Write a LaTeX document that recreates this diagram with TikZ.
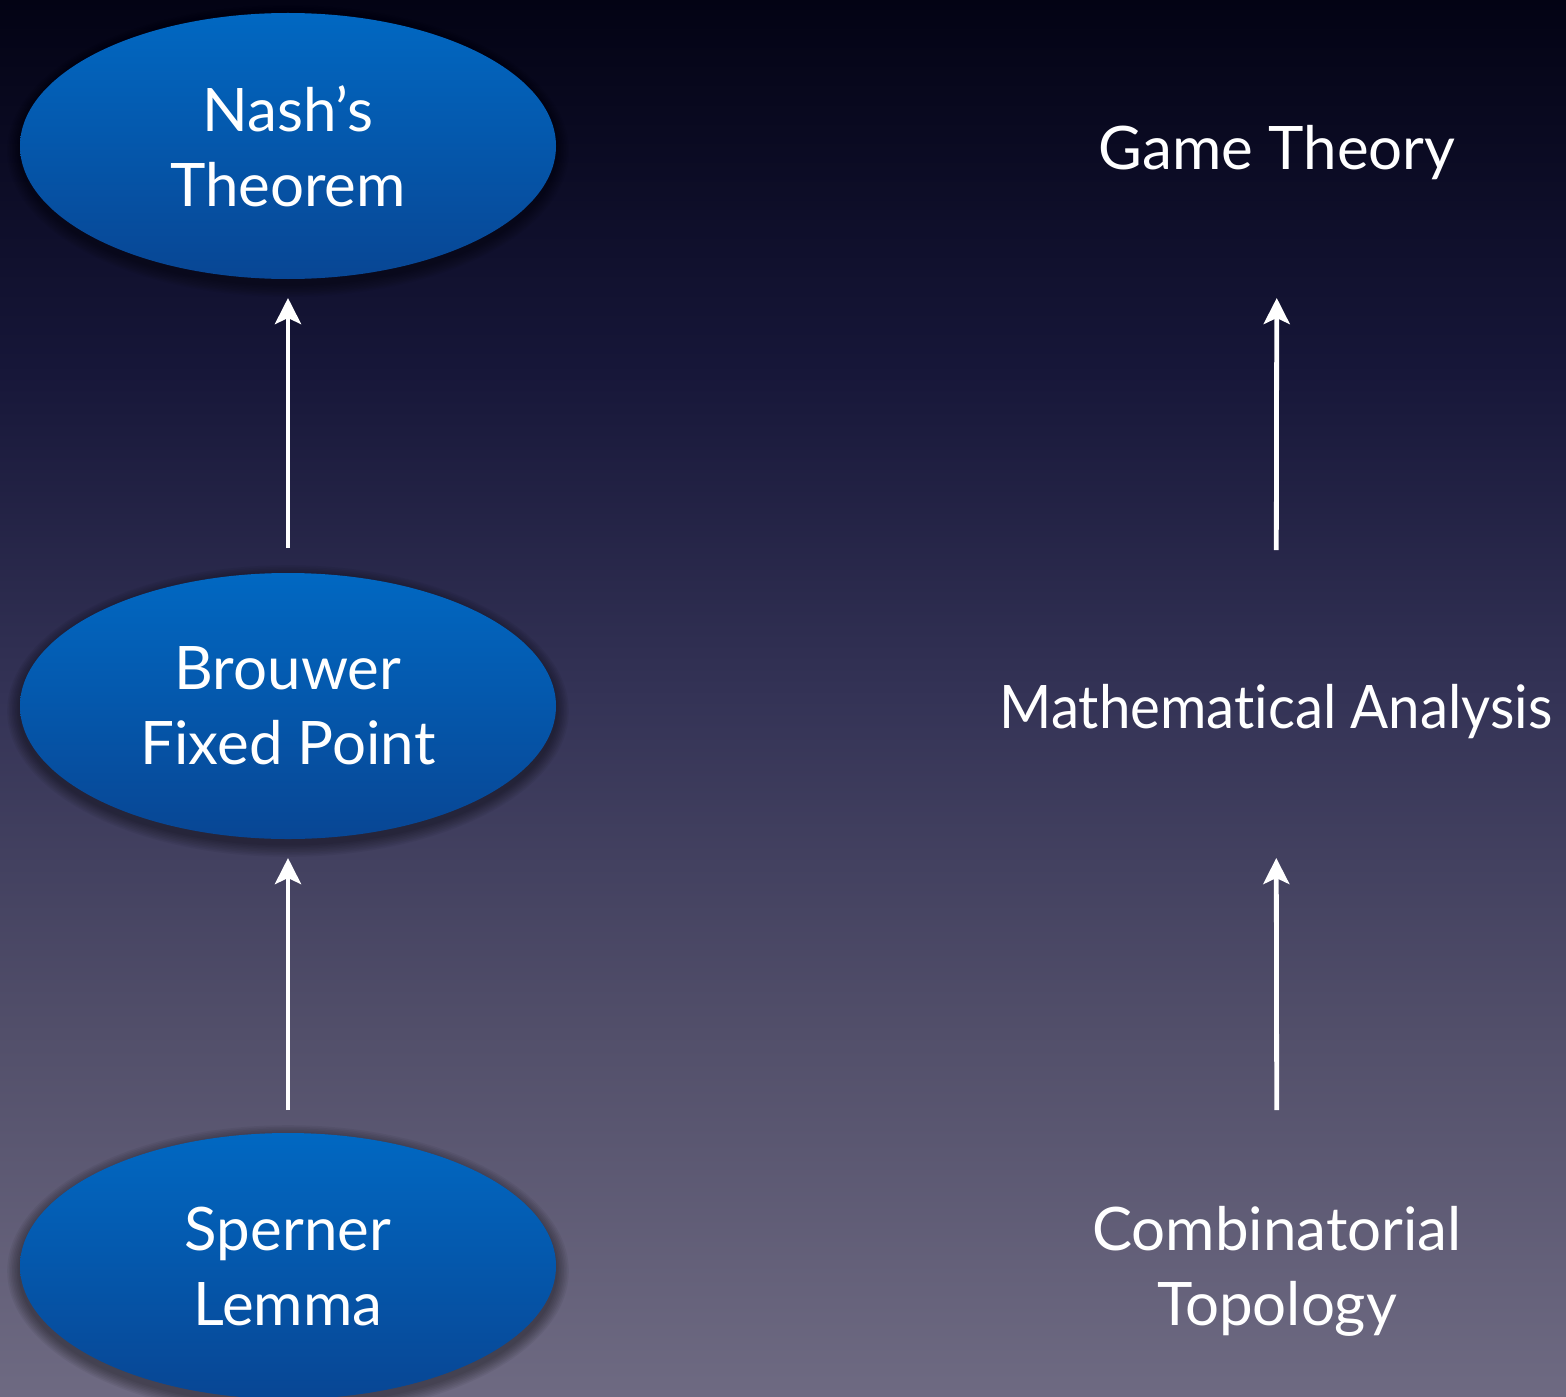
\documentclass[tikz,border=0pt]{standalone}
\usepackage{fontspec}
\setmainfont{Lato}
\newfontfamily\narrowfont[FakeStretch=0.94, Ligatures=NoCommon]{Lato}
\usetikzlibrary{arrows.meta,shapes.geometric}

\definecolor{bgtop}{RGB}{3,3,20}
\definecolor{bgupper}{RGB}{22,22,56}
\definecolor{bgmid}{RGB}{52,51,86}
\definecolor{bglower}{RGB}{82,79,106}
\definecolor{bgbot}{RGB}{110,106,130}
\definecolor{ovaltop}{RGB}{1,104,194}
\definecolor{ovalbot}{RGB}{8,70,148}

% the path's bounding box is mapped onto 25bp..75bp of the shading
\pgfdeclareverticalshading{slidebg}{100bp}{%
  color(0bp)=(bgbot); color(25bp)=(bgbot); color(38bp)=(bglower);
  color(50bp)=(bgmid); color(62bp)=(bgupper); color(75bp)=(bgtop); color(100bp)=(bgtop)}

\tikzset{
  topic/.style={ellipse, minimum width=268pt, minimum height=133pt, inner sep=0pt,
    top color=ovaltop, bottom color=ovalbot, text=white, align=center,
    font=\fontsize{30}{37.5}\selectfont},
  field/.style={text=white, align=center, inner sep=0pt,
    font=\fontsize{30}{37.5}\selectfont},
  link/.style={draw=white, line width=2.4pt,
    -{Stealth[length=13pt, width=13pt, inset=3pt]}},
}

\begin{document}
\begin{tikzpicture}[x=0.5pt, y=-0.5pt]
  % slide background
  \shade[shading=slidebg] (0,0) rectangle (1566,1396);
  \useasboundingbox (0,0) rectangle (1566,1396);

  % soft shadows under the ovals
  \foreach \cy in {146,706,1266}{
    \foreach \k in {1,...,8}{
      \fill[black, opacity=0.05] (288,\cy+5) ellipse [x radius=268+1.6*\k, y radius=133+1.6*\k];
    }
  }

  % left column: results
  \node[topic] (nash) at (288,146) {Nash’s\\Theorem};
  \node[topic] (brouwer) at (288,706) {Brouwer\\Fixed Point};
  \node[topic] (sperner) at (288,1266) {Sperner\\Lemma};

  % right column: fields
  \node[field] (game) at (1277,153) {Game Theory};
  \node[field, font=\narrowfont\fontsize{30}{37.5}\selectfont] (analysis) at (1276,712) {Mathematical Analysis};
  \node[field] (topology) at (1277,1271) {Combinatorial\\Topology};

  % implications
  \draw[link, shorten <=79pt, shorten >=76pt] (brouwer.center) -- (nash.center);
  \draw[link, shorten <=78pt, shorten >=76pt] (sperner.center) -- (brouwer.center);
  \draw[link, shorten <=81pt, shorten >=72.5pt] (analysis.center) -- (game.center);
  \draw[link, shorten <=80.5pt, shorten >=73pt] (topology.center) -- (analysis.center);
\end{tikzpicture}
\end{document}
